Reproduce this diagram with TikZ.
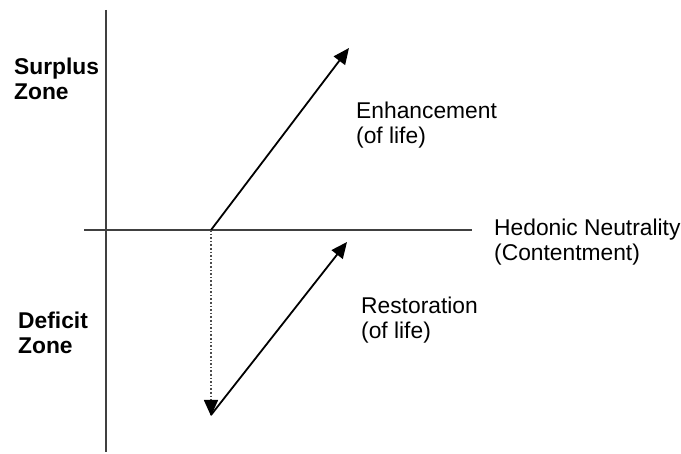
\documentclass[tikz,border=0pt]{standalone}
\usepackage{fontspec}
\setmainfont{Liberation Sans}
\usetikzlibrary{arrows.meta}
\begin{document}
\begin{tikzpicture}[x=1pt,y=-1pt,
  axis/.style={draw=black!75,line width=1.6pt},
  vec/.style={draw=black,line width=1.8pt,-{Triangle[length=16pt,width=14pt]}},
  dotvec/.style={draw=black!70,line width=1.6pt,dotted,-{Triangle[length=16pt,width=14pt,color=black]}},
  lbl/.style={anchor=base west,inner sep=0pt,align=left,font=\fontsize{22.8}{25}\selectfont},
  zone/.style={lbl,font=\fontsize{22.8}{25}\selectfont\bfseries}]
\useasboundingbox (0,0) rectangle (681,454);
\coordinate (vtop) at (106,10);
\coordinate (vbot) at (106,452);
\coordinate (hl) at (84,230);
\coordinate (hr) at (472,230);
\coordinate (o) at (211,230);
\coordinate (e) at (349,48);
\coordinate (d) at (211,416);
\coordinate (dstart) at (211,415);
\coordinate (r) at (347,242);
\draw[axis] (vtop) -- (vbot);
\draw[axis] (hl) -- (hr);
\draw[vec] (o) -- (e);
\draw[dotvec] (o) -- (d);
\draw[vec] (dstart) -- (r);
\node[zone] (surplus) at (14,100) {Surplus\\Zone};
\node[zone] (deficit) at (18,354) {Deficit\\Zone};
\node[lbl] (enh) at (356,144) {Enhancement\\(of life)};
\node[lbl] (res) at (361,339) {Restoration\\(of life)};
\node[lbl] (hed) at (494,261) {Hedonic Neutrality\\(Contentment)};
\end{tikzpicture}
\end{document}
